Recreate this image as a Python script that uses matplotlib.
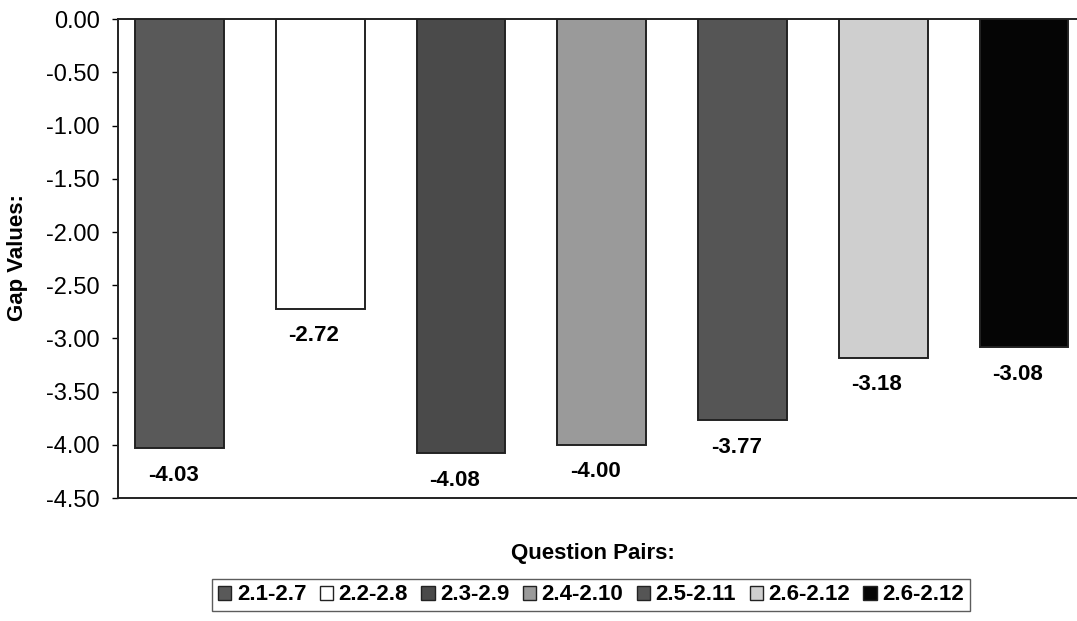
import numpy as np
import matplotlib.pyplot as plt
from matplotlib.patches import Patch

pairs = ["2.1-2.7", "2.2-2.8", "2.3-2.9", "2.4-2.10", "2.5-2.11", "2.6-2.12", "2.6-2.12"]
gaps = [-4.03, -2.72, -4.08, -4.00, -3.77, -3.18, -3.08]
shades = ["#595959", "#ffffff", "#4a4a4a", "#9a9a9a", "#555555", "#cfcfcf", "#050505"]
yticks = [0.0, -0.5, -1.0, -1.5, -2.0, -2.5, -3.0, -3.5, -4.0, -4.5]

plt.rcParams["font.family"] = ["Liberation Sans", "DejaVu Sans"]

fig = plt.figure(figsize=(10.77, 6.21), dpi=100)
ax = fig.add_axes([0.1096, 0.198, 0.9006, 0.771])

x = np.arange(len(gaps))
ax.bar(x, gaps, width=0.63, color=shades, edgecolor="#222222", linewidth=1.4)

# value labels sit just under the end of each bar
for xi, g in zip(x, gaps):
    ax.annotate(f"{g:.2f}", (xi, g), xytext=(-4.5, -19.5), textcoords="offset points",
                ha="center", va="center", fontsize=16, fontweight="bold")

ax.set_xlim(-0.437, 6.455)
ax.set_ylim(-4.5, 0)
ax.set_yticks(yticks)
ax.set_yticklabels([f"{t:.2f}" for t in yticks], fontsize=17)
ax.set_xticks([])
ax.tick_params(axis="y", length=4, width=1, pad=9)
for s in ax.spines.values():
    s.set_linewidth(1.4)
    s.set_color("#222222")

fig.text(18 / 1077, 1 - 257 / 621, "Gap Values:", rotation=90, ha="center", va="center",
         fontsize=16, fontweight="bold")
fig.text(593 / 1077, 1 - 553 / 621, "Question Pairs:", ha="center", va="center",
         fontsize=16, fontweight="bold")

handles = [Patch(facecolor=c, edgecolor="#222222", linewidth=1) for c in shades]
leg = fig.legend(handles, pairs, loc="center", bbox_to_anchor=(591 / 1077, 1 - 595 / 621),
                 ncol=7, prop={"weight": "bold", "size": 16},
                 handlelength=0.6, handleheight=0.6, handletextpad=0.25,
                 columnspacing=0.6, borderpad=0.25, borderaxespad=0,
                 fancybox=False, frameon=True)
leg.get_frame().set_edgecolor("#333333")
leg.get_frame().set_linewidth(1)

fig.savefig("out.png", dpi=100)
